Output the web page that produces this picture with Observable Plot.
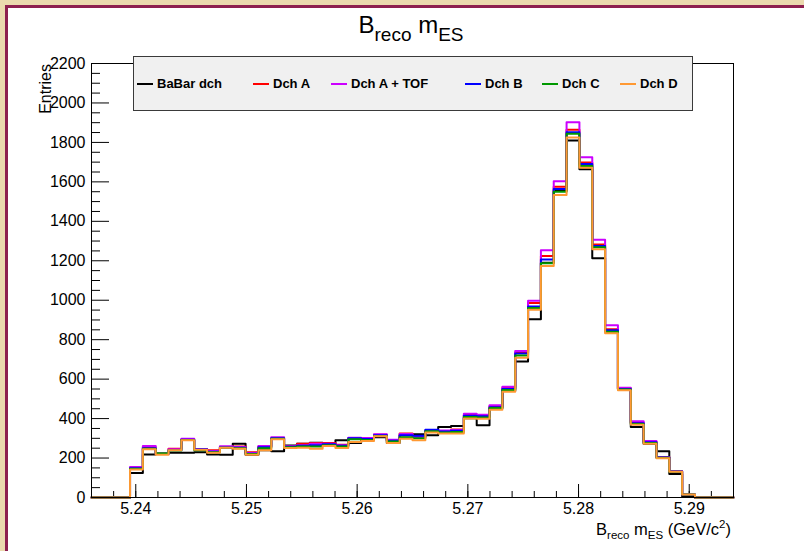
<!DOCTYPE html>
<html><head><meta charset="utf-8">
<script src="https://cdn.jsdelivr.net/npm/d3@7"></script>
<script src="https://cdn.jsdelivr.net/npm/@observablehq/plot@0.6"></script>
<style>
html,body{margin:0;padding:0;width:804px;height:551px;overflow:hidden;background:#ebd9ae;font-family:"Liberation Sans",Arial,Helvetica,sans-serif;}
#panel{position:absolute;left:5px;top:5px;width:830px;height:580px;background:#fff;border:3px solid #8e1f4f;}
#chart{position:absolute;left:0;top:0;}
#legend{position:absolute;left:133px;top:56px;width:558px;height:53px;background:#f0f0f0;border:1px solid #3a3a3a;}
.entry{position:absolute;top:0;height:53px;display:flex;align-items:center;font-weight:bold;font-size:13px;color:#000;white-space:nowrap;}
.swatch{display:inline-block;width:16px;height:2px;margin-right:4px;}
</style></head>
<body>
<div id="panel"></div>
<div id="chart"></div>
<div id="legend"></div>
<script>
// ---- data ----
const xLow = 5.236;
const xHigh = 5.294;
const nBins = 50;
const binWidth = 0.00116;
const seriesNames = ["BaBar dch", "Dch A", "Dch A + TOF", "Dch B", "Dch C", "Dch D"];
const babarDch = [0,0,0,124,218,222,227,227,230,218,217,273,217,239,234,264,273,278,273,290,276,290,305,276,315,320,315,358,362,402,366,452,540,689,904,1190,1555,1810,1664,1213,842,550,357,272,235,119,5,0,0,0];
const dchA     = [0,0,0,150,255,222,247,294,246,239,256,258,229,258,300,258,272,276,276,268,300,298,318,290,324,310,338,336,345,418,415,462,555,735,986,1224,1575,1864,1698,1283,853,552,380,283,205,133,14,0,0,0];
const dchATof  = [0,0,0,154,261,224,245,298,244,236,260,256,226,261,306,260,265,272,273,265,303,301,320,293,322,306,340,340,342,425,420,467,561,743,997,1253,1603,1902,1725,1307,873,556,386,287,204,133,15,0,0,0];
const dchB     = [0,0,0,148,250,220,240,293,244,232,254,252,222,255,300,257,262,265,270,262,300,296,316,288,316,313,344,334,338,414,412,458,550,730,968,1207,1564,1851,1690,1275,848,550,376,280,203,132,15,0,0,0];
const dchC     = [0,0,0,146,247,224,238,292,240,230,252,250,220,250,298,255,258,258,265,258,295,292,312,284,305,300,336,330,332,408,406,454,545,720,960,1188,1550,1844,1680,1269,840,548,372,276,201,131,15,0,0,0];
const dchD     = [0,0,0,142,244,217,239,290,242,227,252,247,217,239,295,251,252,247,261,251,281,286,310,276,298,290,329,324,324,400,399,445,536,709,952,1173,1533,1825,1672,1258,833,544,369,272,199,131,15,0,0,0];
const seriesValues = [babarDch, dchA, dchATof, dchB, dchC, dchD];
const yMajor = [0,200,400,600,800,1000,1200,1400,1600,1800,2000,2200];
const xMajor = [5.24,5.25,5.26,5.27,5.28,5.29];

// ---- styles ----
const colors = ["#000000", "#ff0000", "#cc00ff", "#0000ff", "#009900", "#ff9933"];
const legendX = [3, 119, 197, 331, 408, 486];
const font = '"Liberation Sans", Arial, Helvetica, sans-serif';

const yMinor = d3.range(0, 2201, 50).filter(v => v % 200 !== 0);
const xMinor = d3.range(0, 30).map(i => +(5.236 + i * 0.002).toFixed(3));

function stepPoints(vals) {
  const pts = [];
  for (let k = 0; k <= nBins; k++) {
    pts.push({x: xLow + k * binWidth, y: vals[Math.min(k, nBins - 1)]});
  }
  return pts;
}

const chart = Plot.plot({
  width: 804, height: 551,
  marginLeft: 91, marginRight: 71, marginTop: 63, marginBottom: 54,
  style: {background: "transparent", fontFamily: font, color: "black", overflow: "visible"},
  x: {domain: [xLow, xHigh]},
  y: {domain: [0, 2200]},
  marks: [
    Plot.axisX(xMinor, {tickSize: -6, fill: "none", label: null}),
    Plot.axisX(xMajor, {tickSize: -13, fill: "none", label: null}),
    Plot.axisX(xMajor, {tickSize: 0, stroke: "none", tickPadding: 5, fontSize: 16, tickFormat: d3.format(".2f"), label: null}),
    Plot.axisY(yMinor, {tickSize: -9, fill: "none", label: null}),
    Plot.axisY(yMajor, {tickSize: -18, fill: "none", label: null}),
    Plot.axisY(yMajor, {tickSize: 0, stroke: "none", tickPadding: 6, fontSize: 16, tickFormat: d3.format("d"), label: null}),
    ...seriesValues.map((vals, i) => Plot.line(stepPoints(vals), {x: "x", y: "y", curve: "step-after", stroke: colors[i], strokeWidth: 2})),
    Plot.frame({stroke: "black", strokeWidth: 1})
  ]
});
document.getElementById("chart").appendChild(chart);

const svg = d3.select(chart);
// title
const t = svg.append("text").attr("x", 411).attr("y", 33).attr("text-anchor", "middle").attr("font-size", 24).attr("fill", "black");
t.append("tspan").text("B");
t.append("tspan").attr("font-size", 19).attr("dy", 8).text("reco");
t.append("tspan").attr("dy", -8).text(" m");
t.append("tspan").attr("font-size", 19).attr("dy", 8).text("ES");
// x title
const xt = svg.append("text").attr("x", 731).attr("y", 535).attr("text-anchor", "end").attr("font-size", 16.5).attr("fill", "black");
xt.append("tspan").text("B");
xt.append("tspan").attr("font-size", 11.5).attr("dy", 4).text("reco");
xt.append("tspan").attr("dy", -4).text(" m");
xt.append("tspan").attr("font-size", 11.5).attr("dy", 4).text("ES");
xt.append("tspan").attr("dy", -4).text(" (GeV/c");
xt.append("tspan").attr("font-size", 11.5).attr("dy", -7).text("2");
xt.append("tspan").attr("dy", 7).text(")");
// y title
svg.append("text").attr("transform", "translate(51,64) rotate(-90)").attr("text-anchor", "end").attr("font-size", 16).attr("fill", "black").text("Entries");

// legend
const leg = document.getElementById("legend");
seriesNames.forEach((name, i) => {
  const e = document.createElement("div");
  e.className = "entry";
  e.style.left = legendX[i] + "px";
  const s = document.createElement("span");
  s.className = "swatch";
  s.style.background = colors[i];
  e.appendChild(s);
  e.appendChild(document.createTextNode(name));
  leg.appendChild(e);
});
</script>
</body></html>
